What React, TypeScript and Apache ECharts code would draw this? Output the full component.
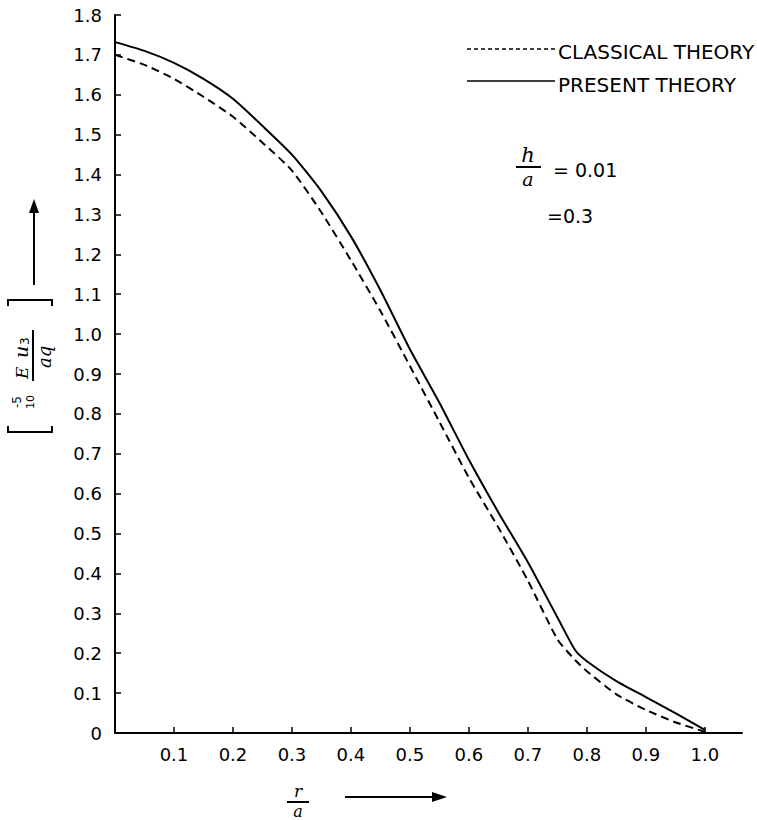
import React, { useEffect, useRef } from "react";
import * as echarts from "echarts";

const xValues = [0, 0.05, 0.1, 0.15, 0.2, 0.25, 0.3, 0.35, 0.4, 0.45, 0.5, 0.55, 0.6, 0.65, 0.7, 0.75, 0.78, 0.8, 0.85, 0.9, 0.95, 1.0];
const presentTheory = [1.732, 1.71, 1.68, 1.64, 1.59, 1.522, 1.45, 1.358, 1.245, 1.11, 0.962, 0.828, 0.685, 0.553, 0.428, 0.29, 0.208, 0.18, 0.13, 0.09, 0.05, 0.008];
const classicalTheory = [1.7, 1.675, 1.64, 1.595, 1.545, 1.48, 1.41, 1.305, 1.185, 1.058, 0.92, 0.78, 0.64, 0.515, 0.382, 0.235, 0.183, 0.155, 0.097, 0.058, 0.027, 0.003];
const xTicks = [0.1, 0.2, 0.3, 0.4, 0.5, 0.6, 0.7, 0.8, 0.9, 1.0];
const yTicks = [0, 0.1, 0.2, 0.3, 0.4, 0.5, 0.6, 0.7, 0.8, 0.9, 1.0, 1.1, 1.2, 1.3, 1.4, 1.5, 1.6, 1.7, 1.8];

const FONT = "DejaVu Sans";
const SERIF = "DejaVu Serif";

export default function App() {
  const ref = useRef<HTMLDivElement>(null);
  useEffect(() => {
    if (!ref.current) return;
    const chart = echarts.init(ref.current, null, { renderer: "svg" });
    const black = "#000";
    const txt = (x: number, y: number, text: string, size: number, extra: any = {}) => ({
      type: "text",
      x,
      y,
      style: {
        text,
        fontSize: size,
        fontFamily: extra.family || FONT,
        fontStyle: extra.italic ? "italic" : "normal",
        fontWeight: extra.weight || "normal",
        fill: black,
        align: extra.align || "left",
        verticalAlign: "middle",
      },
    });
    chart.setOption({
      animation: false,
      backgroundColor: "#fff",
      grid: { left: 115, right: 15, top: 15, bottom: 87, containLabel: false },
      xAxis: {
        type: "value",
        min: 0,
        max: 1.063,
        interval: 0.1,
        splitLine: { show: false },
        axisLine: { lineStyle: { color: black, width: 2 } },
        axisTick: { inside: true, length: 6, customValues: xTicks, lineStyle: { color: black, width: 1.5 } },
        axisLabel: {
          customValues: xTicks,
          margin: 12,
          color: black,
          fontSize: 18,
          fontWeight: 500,
          fontFamily: FONT,
          formatter: (v: number) => v.toFixed(1),
        },
      },
      yAxis: {
        type: "value",
        min: 0,
        max: 1.8,
        interval: 0.1,
        splitLine: { show: false },
        axisLine: { lineStyle: { color: black, width: 2 } },
        axisTick: { inside: true, length: 6, customValues: yTicks, lineStyle: { color: black, width: 1.5 } },
        axisLabel: {
          customValues: yTicks,
          margin: 13,
          color: black,
          fontSize: 18,
          fontWeight: 500,
          fontFamily: FONT,
          formatter: (v: number) => (v === 0 ? "0" : v.toFixed(1)),
        },
      },
      series: [
        {
          name: "CLASSICAL THEORY",
          type: "line",
          smooth: 0.2,
          showSymbol: false,
          lineStyle: { color: black, width: 2, type: [8, 5] },
          data: xValues.map((x, i) => [x, classicalTheory[i]]),
        },
        {
          name: "PRESENT THEORY",
          type: "line",
          smooth: 0.2,
          showSymbol: false,
          lineStyle: { color: black, width: 2 },
          data: xValues.map((x, i) => [x, presentTheory[i]]),
        },
      ],
      graphic: [
        // legend
        { type: "line", shape: { x1: 467, y1: 49, x2: 555, y2: 49 }, style: { stroke: black, lineWidth: 1.5, lineDash: [4, 3] } },
        txt(558, 52, "CLASSICAL THEORY", 20),
        { type: "line", shape: { x1: 467, y1: 81, x2: 555, y2: 81 }, style: { stroke: black, lineWidth: 1.5 } },
        txt(558, 85, "PRESENT THEORY", 20),
        // h/a annotation
        txt(528, 155, "h", 21, { italic: true, family: SERIF, align: "center" }),
        { type: "line", shape: { x1: 516, y1: 167, x2: 541, y2: 167 }, style: { stroke: black, lineWidth: 2 } },
        txt(528, 179, "a", 19, { italic: true, family: SERIF, align: "center" }),
        txt(553, 170, "= 0.01", 19),
        txt(547, 216, "=0.3", 19),
        // x axis name
        txt(298, 791, "r", 17, { italic: true, family: SERIF, align: "center" }),
        { type: "line", shape: { x1: 287, y1: 802, x2: 309, y2: 802 }, style: { stroke: black, lineWidth: 2 } },
        txt(298, 811, "a", 16, { italic: true, family: SERIF, align: "center" }),
        { type: "line", shape: { x1: 345, y1: 797, x2: 436, y2: 797 }, style: { stroke: black, lineWidth: 2 } },
        { type: "polygon", shape: { points: [[432, 792], [447, 797], [432, 802]] }, style: { fill: black } },
        // y axis name arrow
        { type: "line", shape: { x1: 34, y1: 285, x2: 34, y2: 210 }, style: { stroke: black, lineWidth: 2 } },
        { type: "polygon", shape: { points: [[29, 213], [34, 199], [39, 213]] }, style: { fill: black } },
        // y axis name (rotated)
        {
          type: "group",
          x: 35,
          y: 366,
          rotation: Math.PI / 2,
          children: [
            { type: "polyline", shape: { points: [[-60, -27], [-66, -27], [-66, 17], [-60, 17]] }, style: { stroke: black, lineWidth: 2, fill: "none" } },
            { type: "polyline", shape: { points: [[60, -27], [66, -27], [66, 17], [60, 17]] }, style: { stroke: black, lineWidth: 2, fill: "none" } },
            txt(-42, -18, "-5", 12),
            txt(-43, -5, "10", 11),
            txt(-13, -13, "E", 17, { italic: true, family: SERIF }),
            txt(8, -14, "u", 19, { italic: true, family: SERIF }),
            txt(21, -10, "3", 12),
            { type: "line", shape: { x1: -15, y1: -2, x2: 36, y2: -2 }, style: { stroke: black, lineWidth: 2 } },
            txt(-2, 9, "aq", 18, { italic: true, family: SERIF }),
          ],
        },
      ],
    });
    return () => chart.dispose();
  }, []);
  return <div ref={ref} style={{ position: "absolute", left: 0, top: 0, width: 757, height: 820 }} />;
}
